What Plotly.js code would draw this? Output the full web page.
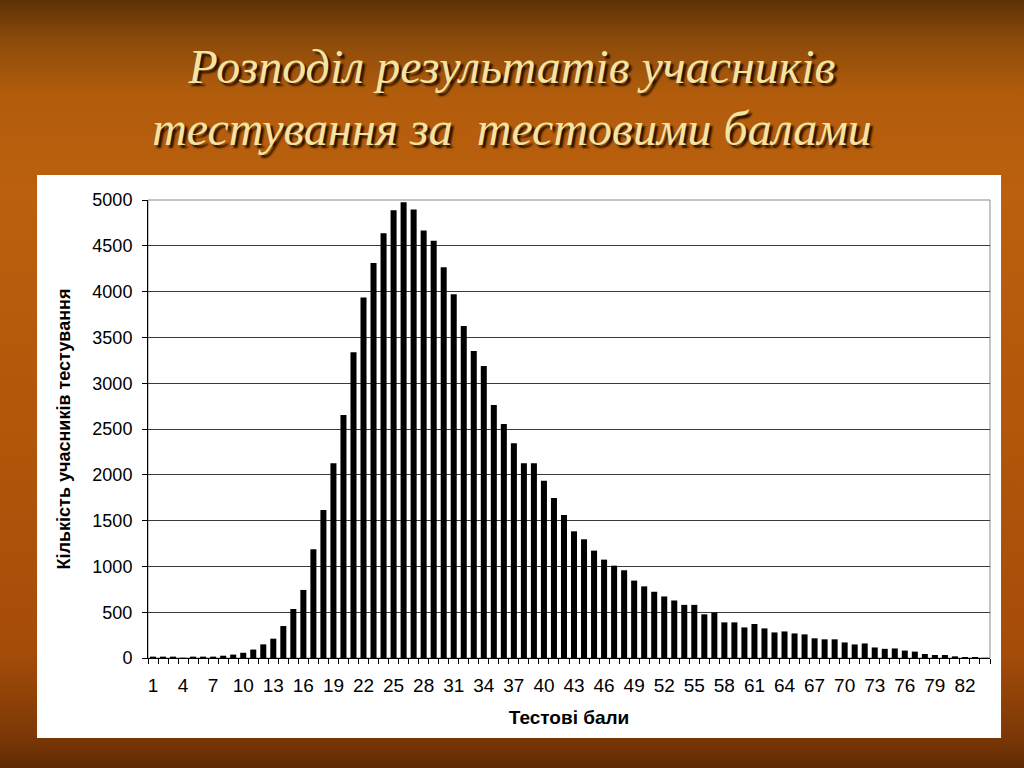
<!DOCTYPE html>
<html>
<head>
<meta charset="utf-8">
<script src="https://cdn.plot.ly/plotly-3.0.1.min.js"></script>
<style>
html,body{margin:0;padding:0;width:1024px;height:768px;overflow:hidden;}
body{background:linear-gradient(to bottom,#5c3106 0%,#8a4a0a 5%,#b15c0c 12%,#bb600d 25%,#b2570b 55%,#a54c09 85%,#7b3806 96%,#5e2a04 100%);}
#chart{width:1024px;height:768px;}
</style>
</head>
<body>
<div id="chart"></div>
<script>
const scores = [];
for (let i = 1; i <= 84; i++) scores.push(i);
const counts = [15,15,15,3,15,15,15,25,37,57,92,149,211,349,535,743,1187,1616,2126,2654,
3338,3935,4313,4637,4889,4976,4896,4666,4554,4266,3971,3625,3352,3189,2763,2555,2344,2126,2126,1936,
1747,1562,1383,1296,1172,1074,1008,958,845,782,723,672,628,580,580,477,495,389,389,334,
371,323,279,290,268,258,215,204,204,170,148,159,115,100,104,81,70,44,33,33,
18,11,11,2];
const xTickVals = [1,4,7,10,13,16,19,22,25,28,31,34,37,40,43,46,49,52,55,58,61,64,67,70,73,76,79,82];
const xTickText = xTickVals.map(String);
const yTickVals = [0,500,1000,1500,2000,2500,3000,3500,4000,4500,5000];

const titleText = 'Розподіл результатів учасників<br>тестування за  тестовими балами';
const xTitle = 'Тестові бали';
const yTitle = 'Кількість учасників тестування';

const trace = {
  type: 'bar',
  x: scores,
  y: counts,
  marker: {color: '#000000', line: {width: 0}},
  hoverinfo: 'x+y'
};

const layout = {
  width: 1024, height: 768,
  paper_bgcolor: 'rgba(0,0,0,0)',
  plot_bgcolor: 'rgba(0,0,0,0)',
  margin: {l: 148, r: 34, t: 200, b: 110, pad: 0},
  bargap: 0.4,
  showlegend: false,
  title: {
    text: titleText,
    x: 0.5, xanchor: 'center',
    y: 0.892, yanchor: 'middle',
    font: {family: 'Liberation Serif, serif', size: 48, color: '#f4e4a4', style: 'italic',
           shadow: '3px 3px 2px #2a1200'}
  },
  xaxis: {
    type: 'linear',
    range: [0.5, 84.5],
    tickmode: 'array', tickvals: xTickVals, ticktext: xTickText,
    ticks: '',
    ticklabelstandoff: 10,
    showgrid: false, zeroline: false,
    showline: true, linecolor: '#000', linewidth: 1,
    tickfont: {family: 'Liberation Sans, Arial, sans-serif', size: 19, color: '#000'},
    minor: {tick0: 0.5, dtick: 1, ticks: 'outside', ticklen: 5, tickcolor: '#000', tickwidth: 1, showgrid: false},
    title: {text: xTitle, standoff: 15, font: {family: 'Liberation Sans, Arial, sans-serif', size: 19, color: '#000', weight: 'bold'}}
  },
  yaxis: {
    range: [0, 5000],
    tickmode: 'array', tickvals: yTickVals,
    ticks: 'outside', ticklen: 5, tickcolor: '#000',
    ticklabelstandoff: 6,
    showgrid: true, gridcolor: '#3a3a3a', gridwidth: 1,
    zeroline: false,
    showline: true, linecolor: '#000', linewidth: 1,
    tickfont: {family: 'Liberation Sans, Arial, sans-serif', size: 18, color: '#000'},
    title: {text: yTitle, standoff: 17, font: {family: 'Liberation Sans, Arial, sans-serif', size: 18, color: '#000', weight: 'bold'}}
  },
  shapes: [
    {type: 'rect', xref: 'paper', yref: 'paper', x0: -0.1318, x1: 1.0131, y0: -0.1747, y1: 1.0546,
     fillcolor: '#ffffff', line: {width: 0}, layer: 'below'},
    {type: 'rect', xref: 'paper', yref: 'paper', x0: 0, x1: 1, y0: 0, y1: 1,
     fillcolor: 'rgba(0,0,0,0)', line: {color: '#8a8a8a', width: 1}, layer: 'below'}
  ]
};

Plotly.newPlot('chart', [trace], layout, {displayModeBar: false, staticPlot: true});
</script>
</body>
</html>
